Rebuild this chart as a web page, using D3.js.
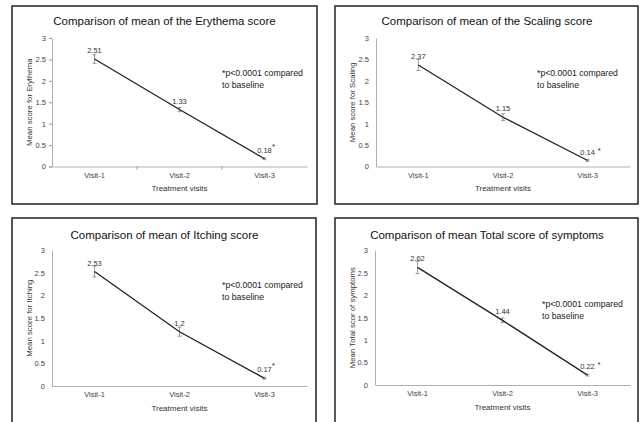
<!DOCTYPE html>
<html><head><meta charset="utf-8">
<script src="https://cdn.jsdelivr.net/npm/d3@7"></script>
<style>body{margin:0;background:#fff}svg{display:block;font-family:"Liberation Sans",Arial,sans-serif}</style>
</head><body><svg id="c" width="642" height="422"></svg>
<script>
const categories = ["Visit-1", "Visit-2", "Visit-3"];
const yTicks = [0, 0.5, 1, 1.5, 2, 2.5, 3];
const titles = ["Comparison of mean of the Erythema score", "Comparison of mean of the Scaling score", "Comparison of mean of Itching score", "Comparison of mean Total score of symptoms"];
const yLabels = ["Mean score for Erythema", "Mean score for Scaling", "Mean score for Itching", "Mean Total scor of symptoms"];
const erythema = [2.51, 1.33, 0.18];
const scaling = [2.37, 1.15, 0.14];
const itching = [2.53, 1.2, 0.17];
const total = [2.62, 1.44, 0.22];
const erythemaErr = [0.1, 0.05, 0.02];
const scalingErr = [0.13, 0.08, 0.02];
const itchingErr = [0.12, 0.1, 0.02];
const totalErr = [0.14, 0.05, 0.02];
const pointLabels = [["2.51", "1.33", "0.18"], ["2.37", "1.15", "0.14"], ["2.53", "1.2", "0.17"], ["2.62", "1.44", "0.22"]];
const noteLines = ["*p<0.0001 compared", "to baseline"];

const series = [erythema, scaling, itching, total];
const errors = [erythemaErr, scalingErr, itchingErr, totalErr];

// layout (positions only)
const layout = [
  {box:[12,6,305,198], x:[52,307], y:[166.5,38], titleY:25, cx:164.5, ylx:29, note:[222,76], ticks:true, starSup:true},
  {box:[335,6,303,198], x:[376,630], y:[166.5,38], titleY:25, cx:487, ylx:352, note:[537,76], ticks:false, starSup:false},
  {box:[12,218,304,215], x:[52,307], y:[386,250.3], titleY:239, cx:164.5, ylx:29, note:[222,288], ticks:false, starSup:true},
  {box:[335,218,303,215], x:[375,630], y:[385,250.3], titleY:239, cx:487, ylx:352, note:[542,307], ticks:false, starSup:false}
];

const svg = d3.select("#c");

layout.forEach((L, i) => {
  const g = svg.append("g");
  g.append("rect").attr("x", L.box[0]).attr("y", L.box[1]).attr("width", L.box[2]).attr("height", L.box[3])
    .attr("fill", "#fff").attr("stroke", "#222").attr("stroke-width", 1.5);
  g.append("text").attr("x", L.cx).attr("y", L.titleY).attr("text-anchor", "middle")
    .attr("font-size", 11.5).attr("fill", "#111").text(titles[i]);

  const x = d3.scaleBand().domain(categories).range(L.x).paddingInner(0).paddingOuter(0);
  const y = d3.scaleLinear().domain([0, 3]).range(L.y);

  // y axis
  const ya = g.append("g").attr("transform", `translate(${L.x[0]},0)`)
    .call(d3.axisLeft(y).tickValues(yTicks).tickFormat(d3.format("")).tickSize(L.ticks ? 3 : 0).tickPadding(L.ticks ? 3 : 7));
  ya.select(".domain").attr("stroke", "#b0b0b0").attr("stroke-width", 1);
  ya.selectAll(".tick line").attr("stroke", "#999");
  ya.selectAll(".tick text").attr("font-size", 7.5).attr("fill", "#444").attr("font-family", "Liberation Sans, Arial, sans-serif");

  // x axis
  const xa = g.append("g").attr("transform", `translate(0,${L.y[0]})`)
    .call(d3.axisBottom(x).tickSize(0).tickPadding(6));
  xa.select(".domain").attr("stroke", "#b0b0b0").attr("stroke-width", 1);
  xa.selectAll(".tick text").attr("font-size", 7.5).attr("fill", "#444").attr("font-family", "Liberation Sans, Arial, sans-serif");
  if (L.ticks) {
    g.selectAll(".xt").data(categories.slice(1)).join("line")
      .attr("x1", d => x(d)).attr("x2", d => x(d)).attr("y1", L.y[0]).attr("y2", L.y[0] + 3)
      .attr("stroke", "#999");
  }

  g.append("text").attr("x", (L.x[0] + L.x[1]) / 2).attr("y", L.y[0] + 24.5).attr("text-anchor", "middle")
    .attr("font-size", 8).attr("fill", "#333").text("Treatment visits");
  g.append("text").attr("transform", `translate(${L.ylx},${(L.y[0] + L.y[1]) / 2}) rotate(-90)`)
    .attr("text-anchor", "middle").attr("dy", "0.35em").attr("font-size", 7.8).attr("fill", "#333").text(yLabels[i]);

  const vals = series[i], errs = errors[i];
  const cxp = j => x(categories[j]) + x.bandwidth() / 2;

  // error bars
  vals.forEach((v, j) => {
    const eg = g.append("g").attr("stroke", "#9a9a9a").attr("stroke-width", 1);
    eg.append("line").attr("x1", cxp(j)).attr("x2", cxp(j)).attr("y1", y(v + errs[j])).attr("y2", y(v - errs[j]));
    eg.append("line").attr("x1", cxp(j) - 2).attr("x2", cxp(j) + 2).attr("y1", y(v + errs[j])).attr("y2", y(v + errs[j]));
    eg.append("line").attr("x1", cxp(j) - 2).attr("x2", cxp(j) + 2).attr("y1", y(v - errs[j])).attr("y2", y(v - errs[j]));
  });

  // line
  g.append("path").datum(vals)
    .attr("d", d3.line().x((d, j) => cxp(j)).y(d => y(d)))
    .attr("fill", "none").attr("stroke", "#222").attr("stroke-width", 1.3);

  // labels
  vals.forEach((v, j) => {
    g.append("text").attr("x", cxp(j)).attr("y", y(v) - 6).attr("text-anchor", "middle")
      .attr("font-size", 7.5).attr("fill", "#333").text(pointLabels[i][j]);
  });
  const last = vals.length - 1;
  g.append("text").attr("x", cxp(last) + (L.starSup ? 7.5 : 10)).attr("y", y(vals[last]) - (L.starSup ? 10 : 8))
    .attr("font-size", 7.5).attr("fill", "#222").text("*");

  // note
  noteLines.forEach((t, k) => {
    g.append("text").attr("x", L.note[0]).attr("y", L.note[1] + k * 11.5)
      .attr("font-size", 8.7).attr("fill", "#222").text(t);
  });
});
</script></body></html>
